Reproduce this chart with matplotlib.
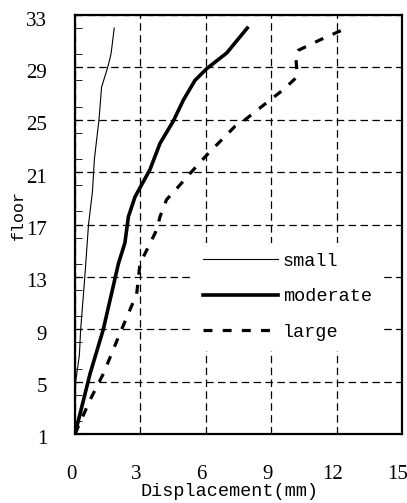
import matplotlib
matplotlib.use("Agg")
import matplotlib.pyplot as plt
import matplotlib.transforms as mtransforms
from matplotlib.ticker import MultipleLocator

# floor vs displacement (mm)
small_floor = [1, 5, 7, 9, 13, 17, 19.5, 22, 25, 27.5, 29, 30, 32]
small_disp = [0, 0.03, 0.2, 0.26, 0.45, 0.62, 0.8, 0.89, 1.1, 1.22, 1.5, 1.65, 1.8]

moderate_floor = [1, 5.6, 9, 14, 15.6, 17.6, 19.1, 21.2, 23.2, 24.9, 26.5,
                  28, 28.9, 30.1, 32]
moderate_disp = [0, 0.69, 1.3, 1.99, 2.29, 2.45, 2.75, 3.44, 3.9, 4.51, 4.97,
                 5.5, 6.04, 6.96, 7.9]

large_floor = [1, 3.6, 5.6, 8.4, 11.7, 14, 16.6, 17.6, 18.9, 19.6, 20.9,
               22.3, 24.5, 25, 26.3, 27.3, 28.3, 30, 30.3, 31.1, 32]
large_disp = [0, 0.69, 1.3, 1.99, 2.83, 2.98, 3.75, 3.9, 4.2, 4.59, 5.28,
              6.04, 7.34, 7.8, 8.79, 9.56, 10.2, 10.12, 10.24, 11.24, 12.46]

x_ticks = [0, 3, 6, 9, 12, 15]
y_ticks = [1, 5, 9, 13, 17, 21, 25, 29, 33]

mono = "Liberation Mono"
serif = "Liberation Serif"

fig = plt.figure(figsize=(4.07, 5.03), dpi=100)
ax = fig.add_axes([75 / 407, 69 / 503, 327 / 407, 419 / 503])

ax.plot(small_disp, small_floor, color="black", lw=0.8, label="small")
ax.plot(moderate_disp, moderate_floor, color="black", lw=2.6, label="moderate")
ax.plot(large_disp, large_floor, color="black", lw=2.3,
        linestyle=(0, (2.8, 3.2)), label="large")

ax.set_xlim(0, 15)
ax.set_ylim(1, 33)
ax.set_xticks(x_ticks)
ax.set_yticks(y_ticks)
ax.yaxis.set_minor_locator(MultipleLocator(2))
ax.grid(True, which="major", color="black", lw=0.9, linestyle=(0, (6, 3.5)))
ax.set_axisbelow(True)

ax.tick_params(axis="x", length=0, pad=29)
ax.tick_params(axis="y", which="major", direction="in", length=5, pad=20)
ax.tick_params(axis="y", which="minor", direction="in", length=5)

# reference labels sit a few pixels off their ticks
dx = mtransforms.ScaledTranslation(-4 / 100, 0, fig.dpi_scale_trans)
dy = mtransforms.ScaledTranslation(0, -3.5 / 100, fig.dpi_scale_trans)
for lab in ax.get_xticklabels():
    lab.set_fontfamily(serif)
    lab.set_fontsize(15)
    lab.set_verticalalignment("center")
    lab.set_transform(lab.get_transform() + dx)
for lab in ax.get_yticklabels():
    lab.set_fontfamily(serif)
    lab.set_fontsize(15)
    lab.set_transform(lab.get_transform() + dy)

for sp in ax.spines.values():
    sp.set_linewidth(1.6)

ax.set_xlabel("Displacement(mm)", fontfamily=mono, fontsize=13.3, va="center")
ax.xaxis.set_label_coords(0.474, (434 - 491) / 419)
ax.set_ylabel("floor", fontfamily=mono, fontsize=12, va="center")
ax.yaxis.set_label_coords((18 - 75) / 327, (434 - 215) / 419)

leg = ax.legend(loc="lower left", bbox_to_anchor=(0.361, 0.198),
                borderaxespad=0, frameon=True, fancybox=False,
                handlelength=4.05, handletextpad=0.25, labelspacing=1.0,
                borderpad=0.55, prop={"family": mono, "size": 13.3})
leg.get_frame().set_facecolor("white")
leg.get_frame().set_edgecolor("none")
leg.get_frame().set_alpha(1)

fig.savefig("out.png", dpi=100)
